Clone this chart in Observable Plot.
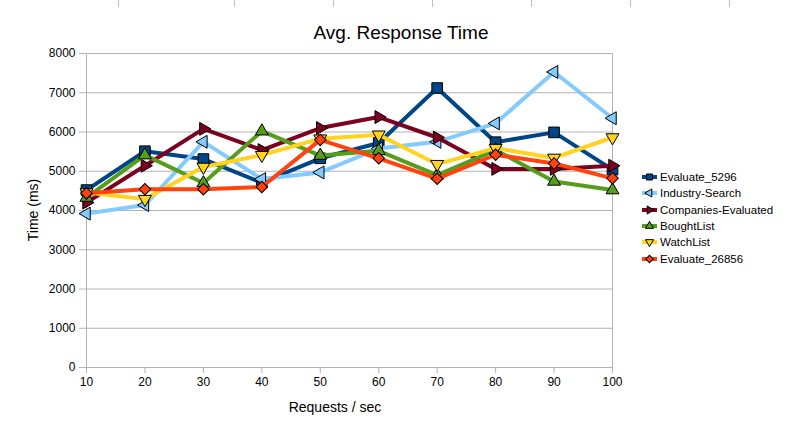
<!DOCTYPE html>
<html><head><meta charset="utf-8">
<script src="https://cdn.jsdelivr.net/npm/d3@7"></script>
<script src="https://cdn.jsdelivr.net/npm/@observablehq/plot@0.6"></script>
<style>
body{margin:0;background:#fff;font-family:"Liberation Sans",Arial,sans-serif;}
#wrap{position:relative;width:794px;height:425px;overflow:hidden;background:#fff;}
#title{box-sizing:border-box;height:44px;padding-top:23px;padding-left:8px;font-size:19px;line-height:19px;text-align:center;color:#000;}
.tick{position:absolute;top:0;width:1px;height:7px;background:#bdbdbd;}
#xlabel{position:absolute;left:235px;width:200px;top:399px;text-align:center;font-size:14px;line-height:16px;}
#ylabel{position:absolute;left:33px;top:210px;font-size:14px;line-height:16px;transform:translate(-50%,-50%) rotate(-90deg);white-space:nowrap;}
#legend{position:absolute;left:640px;top:169px;font-size:11.5px;}
.lrow{height:16.3px;display:flex;align-items:center;white-space:nowrap;}
.lrow svg{margin-right:2px;}
</style></head><body>
<div id="wrap">
<div id="title">Avg. Response Time</div>
<div id="chart"></div>
<div id="xlabel">Requests / sec</div>
<div id="ylabel">Time (ms)</div>
<div id="legend"></div>
</div>
<script>
// Data
const requests = [10, 20, 30, 40, 50, 60, 70, 80, 90, 100];
const seriesNames = ["Evaluate_5296", "Industry-Search", "Companies-Evaluated", "BoughtList", "WatchList", "Evaluate_26856"];
const evaluate5296 = [4520, 5510, 5310, 4710, 5330, 5720, 7120, 5740, 5990, 5040];
const industrySearch = [3920, 4140, 5750, 4800, 4970, 5580, 5750, 6220, 7530, 6350];
const companiesEvaluated = [4200, 5140, 6080, 5540, 6100, 6380, 5860, 5060, 5060, 5140];
const boughtList = [4330, 5410, 4700, 6020, 5400, 5520, 4900, 5540, 4740, 4520];
const watchList = [4460, 4290, 5110, 5410, 5830, 5930, 5180, 5590, 5340, 5860];
const evaluate26856 = [4440, 4540, 4540, 4600, 5800, 5330, 4810, 5420, 5200, 4820];
const yTicks = [0, 1000, 2000, 3000, 4000, 5000, 6000, 7000, 8000];
const xTicks = requests;

const seriesValues = [evaluate5296, industrySearch, companiesEvaluated, boughtList, watchList, evaluate26856];
const colors = ["#004586", "#83caff", "#7e0021", "#579d1c", "#ffd320", "#ff420e"];
const symbols = ["square", "triangle", "triangle", "triangle", "triangle", "square"];
const rotations = [0, -90, 90, 0, 180, 45];
const radii = [6, 4.8, 4.8, 4.8, 4.8, 4.6];

const seriesMarks = [];
seriesNames.forEach((name, i) => {
  const data = requests.map((x, j) => ({x, y: seriesValues[i][j], series: name}));
  seriesMarks.push(Plot.line(data, {x: "x", y: "y", stroke: colors[i], strokeWidth: 4, strokeLinejoin: "round"}));
  seriesMarks.push(Plot.dot(data, {x: "x", y: "y", symbol: symbols[i], rotate: rotations[i], r: radii[i], fill: colors[i], stroke: "#000", strokeWidth: 1}));
});

const chart = Plot.plot({
  width: 794, height: 381,
  marginTop: 9, marginBottom: 58, marginLeft: 86, marginRight: 182,
  style: {fontFamily: "'Liberation Sans', Arial, sans-serif", fontSize: "12px", color: "#000", background: "transparent", overflow: "visible"},
  x: {domain: [10, 100], label: null},
  y: {domain: [0, 8000], label: null},
  marks: [
    Plot.gridY(yTicks, {stroke: "#b3b3b3", strokeOpacity: 1, strokeWidth: 1}),
    Plot.frame({stroke: "#b3b3b3"}),
    Plot.axisY(yTicks, {tickSize: 7, tickPadding: 4, stroke: "#b3b3b3", fill: "#000", fontSize: 12, label: null, tickFormat: d => String(d)}),
    Plot.axisX(xTicks, {tickSize: 6, tickPadding: 4, stroke: "#b3b3b3", fill: "#000", fontSize: 12, label: null, tickFormat: d => String(d)}),
    ...seriesMarks
  ]
});
document.getElementById("chart").appendChild(chart);

// Legend
const legend = d3.select("#legend");
seriesNames.forEach((name, i) => {
  const row = legend.append("div").attr("class", "lrow");
  const svg = row.append("svg").attr("width", 18).attr("height", 14);
  svg.append("line").attr("x1", 2).attr("x2", 17).attr("y1", 7).attr("y2", 7).attr("stroke", colors[i]).attr("stroke-width", 4);
  const sym = symbols[i] === "square" ? d3.symbolSquare : d3.symbolTriangle;
  const rr = symbols[i] === "square" && rotations[i] === 0 ? 3.4 : 3;
  svg.append("path").attr("d", d3.symbol(sym, Math.PI * rr * rr)())
    .attr("transform", `translate(9.5,7) rotate(${rotations[i]})`)
    .attr("fill", colors[i]).attr("stroke", "#000").attr("stroke-width", 1);
  row.append("span").text(name);
});

// faint spreadsheet column marks at top
[118, 234, 333, 432, 531, 630, 729].forEach(x => {
  d3.select("#wrap").append("div").attr("class", "tick").style("left", x + "px");
});
</script>
</body></html>
